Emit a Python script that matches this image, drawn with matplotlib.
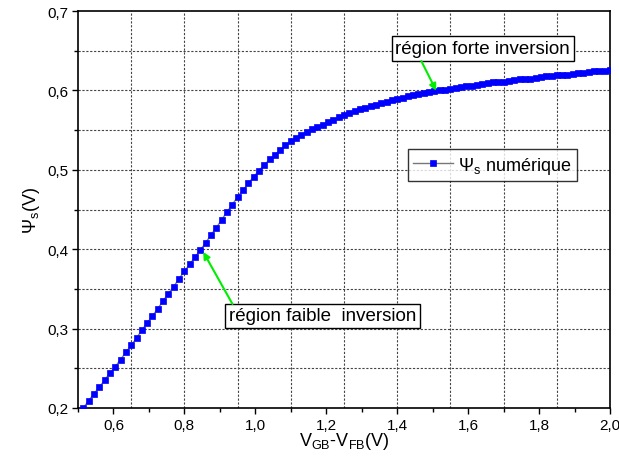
import matplotlib
matplotlib.use("Agg")
import matplotlib.pyplot as plt
from matplotlib.ticker import MultipleLocator, FuncFormatter

plt.rcParams['font.family'] = ['Liberation Sans', 'DejaVu Sans']
plt.rcParams['mathtext.fontset'] = 'custom'
plt.rcParams['mathtext.rm'] = 'Liberation Sans'
plt.rcParams['mathtext.it'] = 'Liberation Sans:italic'

# V_GB - V_FB (V)
vg = [0.515, 0.530, 0.545, 0.560, 0.575, 0.590, 0.605, 0.620, 0.635, 0.650,
      0.665, 0.680, 0.695, 0.710, 0.725, 0.740, 0.755, 0.770, 0.785, 0.800,
      0.815, 0.830, 0.845, 0.860, 0.875, 0.890, 0.905, 0.920, 0.935, 0.950,
      0.965, 0.980, 0.995, 1.010, 1.025, 1.040, 1.055, 1.070, 1.085, 1.100,
      1.115, 1.130, 1.145, 1.160, 1.175, 1.190, 1.205, 1.220, 1.235, 1.250,
      1.265, 1.280, 1.295, 1.310, 1.325, 1.340, 1.355, 1.370, 1.385, 1.400,
      1.415, 1.430, 1.445, 1.460, 1.475, 1.490, 1.505, 1.520, 1.535, 1.550,
      1.565, 1.580, 1.595, 1.610, 1.625, 1.640, 1.655, 1.670, 1.685, 1.700,
      1.715, 1.730, 1.745, 1.760, 1.775, 1.790, 1.805, 1.820, 1.835, 1.850,
      1.865, 1.880, 1.895, 1.910, 1.925, 1.940, 1.955, 1.970, 1.985, 2.000]

# surface potential (V)
psi_s = [0.200, 0.209, 0.218, 0.226, 0.235, 0.244, 0.252, 0.261, 0.270, 0.279,
         0.288, 0.298, 0.307, 0.316, 0.325, 0.335, 0.344, 0.353, 0.363, 0.372,
         0.381, 0.390, 0.399, 0.408, 0.418, 0.427, 0.437, 0.447, 0.456, 0.466,
         0.474, 0.483, 0.491, 0.499, 0.506, 0.513, 0.519, 0.525, 0.531, 0.536,
         0.540, 0.544, 0.548, 0.551, 0.554, 0.557, 0.560, 0.563, 0.566, 0.569,
         0.571, 0.574, 0.576, 0.578, 0.580, 0.582, 0.584, 0.586, 0.588, 0.5895,
         0.591, 0.593, 0.594, 0.596, 0.597, 0.598, 0.599, 0.600, 0.601, 0.602,
         0.603, 0.604, 0.605, 0.606, 0.607, 0.608, 0.609, 0.610, 0.611, 0.611,
         0.612, 0.613, 0.614, 0.615, 0.615, 0.616, 0.617, 0.618, 0.618, 0.619,
         0.620, 0.620, 0.621, 0.622, 0.622, 0.623, 0.624, 0.624, 0.625, 0.626]

grid_x = [0.65, 0.80, 0.95, 1.10, 1.25, 1.40, 1.55, 1.70, 1.85]
grid_y = [0.25, 0.30, 0.35, 0.40, 0.45, 0.50, 0.55, 0.60, 0.65]

fig = plt.figure(figsize=(6.19, 4.77), dpi=100)
ax = fig.add_axes([0.126, 0.1426, 0.8595, 0.8322])

for gx in grid_x:
    ax.axvline(gx, color='#444444', lw=0.8, ls=(0, (2, 1.5)), zorder=0)
for gy in grid_y:
    ax.axhline(gy, color='#444444', lw=0.8, ls=(0, (2, 1.5)), zorder=0)

ax.plot(vg, psi_s, color='#777777', lw=1, marker='s', ms=4.8,
        mfc='blue', mec='blue', mew=0.5, label='Ψ$_{\\rm s}$ numérique', zorder=3)

ax.set_xlim(0.5, 2.0)
ax.set_ylim(0.2, 0.7)
ax.xaxis.set_major_locator(MultipleLocator(0.2))
ax.xaxis.set_minor_locator(MultipleLocator(0.1))
ax.yaxis.set_major_locator(MultipleLocator(0.1))
ax.yaxis.set_minor_locator(MultipleLocator(0.05))
comma = FuncFormatter(lambda v, p: ('%.1f' % v).replace('.', ','))
ax.xaxis.set_major_formatter(comma)
ax.yaxis.set_major_formatter(comma)
ax.tick_params(which='major', direction='out', length=4, width=1, labelsize=11, pad=3)
ax.tick_params(which='minor', direction='out', length=3, width=1)
ax.tick_params(top=False, right=False, which='both')
for sp in ax.spines.values():
    sp.set_linewidth(1.2)

ax.set_xlabel('V$_{\\rm GB}$-V$_{\\rm FB}$(V)', fontsize=13, labelpad=-1)
ax.set_ylabel('Ψ$_{\\rm s}$(V)', fontsize=13, labelpad=4)

leg = ax.legend(loc='upper left', bbox_to_anchor=(0.62, 0.652), borderaxespad=0,
                fancybox=False, edgecolor='black', fontsize=13, numpoints=1,
                handlelength=2.2, borderpad=0.3, handletextpad=0.3)
leg.get_frame().set_linewidth(1)

green = '#00ee00'
box = dict(boxstyle='square,pad=0.2', fc='white', ec='black', lw=1)
ax.text(1.641, 0.6527, 'région forte inversion', fontsize=13.5, ha='center', va='center',
        bbox=box, zorder=5)
ax.annotate('', xy=(1.51, 0.5996), xytext=(1.468, 0.637),
            arrowprops=dict(arrowstyle='-|>', color=green, lw=1.5,
                            mutation_scale=10, shrinkA=0, shrinkB=0), zorder=6)
ax.text(1.19, 0.316, 'région faible  inversion', fontsize=13.5, ha='center', va='center',
        bbox=box, zorder=5)
ax.annotate('', xy=(0.853, 0.3966), xytext=(0.9355, 0.331),
            arrowprops=dict(arrowstyle='-|>', color=green, lw=1.5,
                            mutation_scale=10, shrinkA=0, shrinkB=0), zorder=6)

fig.savefig('out.png', dpi=100)
